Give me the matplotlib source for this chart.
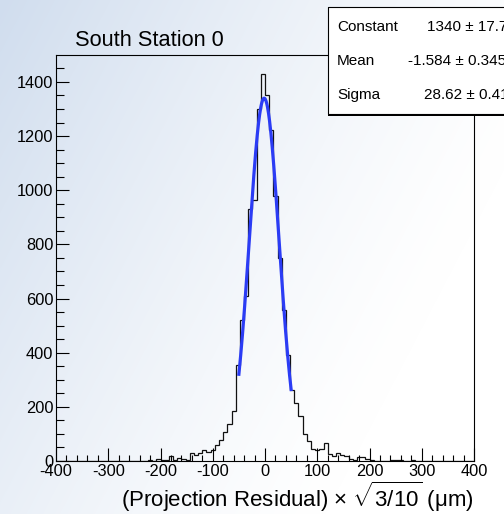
import numpy as np
import matplotlib
matplotlib.use('Agg')
import matplotlib.pyplot as plt
from matplotlib.patches import Rectangle
from matplotlib.ticker import MultipleLocator

plt.rcParams['font.family'] = ['Liberation Sans', 'DejaVu Sans']
plt.rcParams['mathtext.fontset'] = 'custom'
plt.rcParams['mathtext.rm'] = 'Liberation Sans'
plt.rcParams['mathtext.it'] = 'Liberation Sans:italic'
plt.rcParams['axes.unicode_minus'] = False

# histogram: 100 bins of width 8 between -400 and 400
bin_lo, bin_hi, n_bins = -400, 400, 100
counts = [
    0, 0, 0, 0, 0, 0, 0, 0, 0, 0,
    0, 0, 0, 0, 0, 0, 0, 0, 0, 0,
    0, 0, 3, 0, 8, 2, 4, 18, 3, 12,
    6, 4, 30, 24, 30, 42, 32, 42, 60, 78,
    107, 135, 185, 353, 520, 610, 930, 965, 1300, 1428,
    1350, 1222, 978, 748, 558, 391, 262, 215, 166, 101,
    74, 46, 40, 44, 68, 25, 20, 28, 22, 18,
    6, 4, 14, 14, 6, 3, 0, 0, 0, 0,
    2, 2, 2, 0, 0, 2, 0, 0, 0, 0,
    0, 0, 0, 0, 0, 0, 0, 0, 0, 0,
]

# gaussian fit parameters (from the stats box) and fit range
fit_const, fit_mean, fit_sigma = 1340.0, -1.584, 28.62
fit_lo, fit_hi = -50, 50
stat_names = ['Constant', 'Mean', 'Sigma']
stat_values = ['1340 \u00b1 17.7', '-1.584 \u00b1 0.345', '28.62 \u00b1 0.41']

W, H = 504, 514
fig = plt.figure(figsize=(W / 100, H / 100), dpi=100)

# gradient background, blue-ish at top left fading to white
bg = fig.add_axes([0, 0, 1, 1], zorder=-10)
u = np.linspace(0, 1, W)[None, :]
v = np.linspace(0, 1, H)[:, None]
f = np.clip(1 - (0.85 * u + 0.45 * v), 0, 1) ** 1.3
c0 = np.array([208, 221, 238]) / 255.0
img = 1 - f[..., None] * (1 - c0)
bg.imshow(img, aspect='auto', extent=[0, 1, 0, 1])
bg.axis('off')

ax = fig.add_axes([56 / W, 1 - 461 / H, 418 / W, 406 / H])
ax.set_facecolor('none')

edges = np.linspace(bin_lo, bin_hi, n_bins + 1)
ax.stairs(counts, edges, color='#111111', lw=0.9)

xf = np.linspace(fit_lo, fit_hi, 200)
yf = fit_const * np.exp(-0.5 * ((xf - fit_mean) / fit_sigma) ** 2)
ax.plot(xf, yf, color='#2b3cf5', lw=2.3)

ax.set_xlim(bin_lo, bin_hi)
ax.set_ylim(0, 1.05 * max(counts))
ax.xaxis.set_major_locator(MultipleLocator(100))
ax.xaxis.set_minor_locator(MultipleLocator(20))
ax.yaxis.set_major_locator(MultipleLocator(200))
ax.yaxis.set_minor_locator(MultipleLocator(50))
ax.tick_params(which='both', direction='in', width=0.8, labelsize=11.8,
               top=False, right=False)
ax.tick_params(axis='x', which='major', length=9.4, pad=2)
ax.tick_params(axis='x', which='minor', length=4.5)
ax.tick_params(axis='y', which='major', length=9.4, pad=2)
ax.tick_params(axis='y', which='minor', length=5.5)
for s in ax.spines.values():
    s.set_linewidth(0.8)

fig.text(75 / W, 1 - 40 / H, 'South Station 0', fontsize=15.7,
         ha='left', va='center')
fig.text(474 / W, 1 - 507.5 / H,
         '(Projection Residual) \u00d7 $\\sqrt{3/10}$ (\u03bcm)',
         fontsize=16, ha='right', va='baseline')

# stats box (cut off at right edge like the original)
bx0, by_top, by_bot = 328, 7, 114
fig.patches.append(Rectangle((bx0 / W, 1 - (by_bot + 2) / H), (W - bx0 + 20) / W,
                             (by_bot + 2 - by_top) / H, transform=fig.transFigure,
                             facecolor='black', edgecolor='none', zorder=5))
fig.patches.append(Rectangle((bx0 / W, 1 - by_bot / H), (W - bx0 + 20) / W,
                             (by_bot - by_top) / H, transform=fig.transFigure,
                             facecolor='white', edgecolor='black', lw=0.8, zorder=6))
name_y = [27, 61, 95]
value_x = [427, 408, 424]
for name, val, yy, vx in zip(stat_names, stat_values, name_y, value_x):
    fig.text(337 / W, 1 - yy / H, name, fontsize=11, ha='left', va='center', zorder=7)
    fig.text(vx / W, 1 - yy / H, val, fontsize=11, ha='left', va='center', zorder=7)

fig.savefig('out.png', dpi=100)
